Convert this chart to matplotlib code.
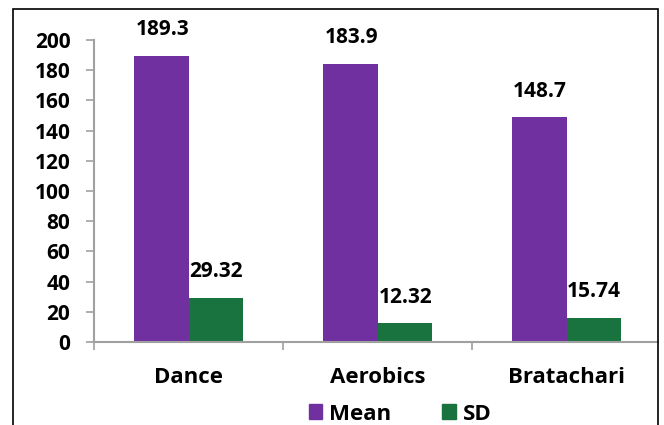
import matplotlib.pyplot as plt
import numpy as np
from matplotlib.patches import Rectangle, Patch

# data
categories = ['Dance', 'Aerobics', 'Bratachari']
mean_vals = [189.3, 183.9, 148.7]
sd_vals = [29.32, 12.32, 15.74]
mean_labels = ['189.3', '183.9', '148.7']
sd_labels = ['29.32', '12.32', '15.74']
yticks = [0, 20, 40, 60, 80, 100, 120, 140, 160, 180, 200]

purple = '#7030A0'
green = '#18733F'
axis_grey = '#A0A0A0'

plt.rcParams['font.family'] = ['Open Sans', 'DejaVu Sans']
plt.rcParams['font.weight'] = 'bold'

fig = plt.figure(figsize=(6.64, 4.25), dpi=100)
ax = fig.add_axes([94/664, 1-342/425, 564/664, 302/425])

x = np.arange(len(categories))
width = 0.286
b1 = ax.bar(x - width/2, mean_vals, width, color=purple)
b2 = ax.bar(x + width/2, sd_vals, width, color=green)

# value labels above each bar
for bars, labels in [(b1, mean_labels), (b2, sd_labels)]:
    for rect, lab in zip(bars, labels):
        ax.annotate(lab, (rect.get_x() + rect.get_width()/2, rect.get_height()),
                    xytext=(0.5, 19), textcoords='offset points',
                    ha='center', va='center', fontsize=15, fontweight='bold')

ax.set_ylim(0, 200)
ax.set_xlim(-0.5, 2.484)
ax.set_yticks(yticks)
ax.tick_params(axis='y', labelsize=15, length=6, width=1.2, color=axis_grey, pad=11)

# category ticks sit between groups, labels at the group centres
ax.set_xticks([-0.5, 0.5, 1.5])
ax.set_xticklabels([])
ax.tick_params(axis='x', length=6, width=1.2, color=axis_grey)
for xi, name in zip(x, categories):
    ax.text(xi, -23.5, name, ha='center', va='center', fontsize=16, fontweight='bold')

for s in ['top', 'right']:
    ax.spines[s].set_visible(False)
for s in ['left', 'bottom']:
    ax.spines[s].set_color(axis_grey)
    ax.spines[s].set_linewidth(1.5)

handles = [Patch(color=purple, label='Mean'), Patch(color=green, label='SD')]
fig.legend(handles=handles, loc='center', bbox_to_anchor=(400/664, 1-414/425),
           ncol=2, frameon=False, fontsize=16, handlelength=0.62, handleheight=0.62,
           handletextpad=0.3, columnspacing=2.3)

# outer chart border, bottom edge runs off the image
fig.patches.append(Rectangle((13/664, -0.1), 645/664, 1.1 - 9/425, transform=fig.transFigure,
                             fill=False, edgecolor='black', linewidth=1.2))

fig.savefig('out.png', dpi=100)
